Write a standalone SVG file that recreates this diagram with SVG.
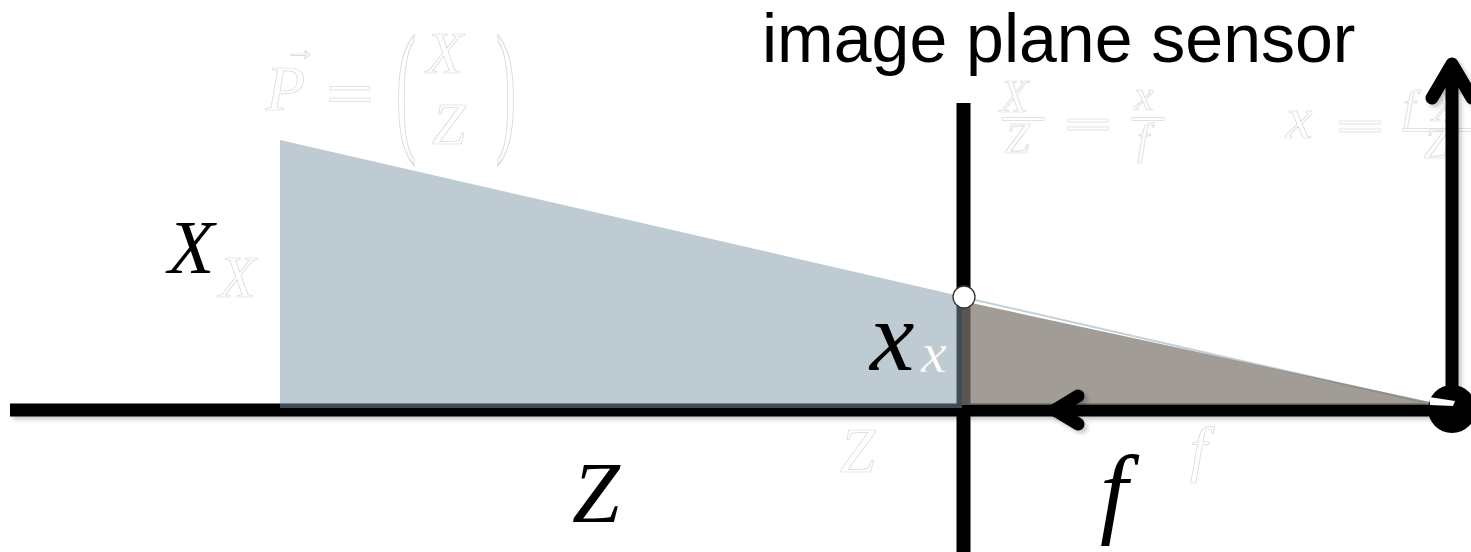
<svg xmlns="http://www.w3.org/2000/svg" width="1471" height="552" viewBox="0 0 1471 552">
<style>
.title{font-family:"Liberation Sans",Arial,sans-serif;font-size:68px;fill:#000}
.m{font-family:"Liberation Serif","Times New Roman",serif;font-style:italic;fill:#000}
.g{font-family:"Liberation Serif","Times New Roman",serif;font-style:italic;fill:#fff;stroke:#d6d6d6;stroke-width:0.7}
.gu{font-family:"Liberation Serif","Times New Roman",serif;fill:#fff;stroke:#d6d6d6;stroke-width:0.7}
.gbar{fill:#fff;stroke:#d6d6d6;stroke-width:0.7}
.bar{stroke:#000;fill:none}
.chev{stroke:#000;fill:none;stroke-width:13;stroke-linecap:round;stroke-linejoin:round}
</style>
<defs>
<filter id="sh" filterUnits="userSpaceOnUse" x="0" y="0" width="1471" height="552">
<feDropShadow dx="3" dy="3" stdDeviation="2" flood-color="#000" flood-opacity="0.22"/>
</filter>
</defs>
<rect width="1471" height="552" fill="#fff"/>

<g id="formula-P">
<text class="g" x="266" y="110" font-size="64">P</text>
<text class="gu" x="284" y="60" font-size="32">→</text>
<rect class="gbar" x="330" y="86.5" width="40" height="3.5"/>
<rect class="gbar" x="330" y="98" width="40" height="3.5"/>
<text class="gu" x="396" y="56.25" font-size="60" transform="scale(1,2.4)">(</text>
<text class="gu" x="496" y="56.25" font-size="60" transform="scale(1,2.4)">)</text>
<text class="g" x="426" y="73" font-size="60">X</text>
<text class="g" x="432" y="144" font-size="60">Z</text>
</g>

<g id="formula-ratio">
<text class="g" x="1000" y="112" font-size="46">X</text>
<rect class="gbar" x="1002" y="117.5" width="42" height="3"/>
<text class="g" x="1005" y="153" font-size="44">Z</text>
<rect class="gbar" x="1068" y="119" width="40" height="3"/>
<rect class="gbar" x="1068" y="127" width="40" height="3"/>
<text class="g" x="1134" y="110" font-size="44">x</text>
<rect class="gbar" x="1132" y="117.5" width="32" height="3"/>
<text class="g" x="1137" y="154" font-size="44">f</text>
</g>

<g id="formula-x">
<text class="g" x="1286" y="138" font-size="60">x</text>
<rect class="gbar" x="1340" y="121" width="40" height="3"/>
<rect class="gbar" x="1340" y="129" width="40" height="3"/>
<text class="g" x="1403" y="121" font-size="44">f</text>
<text class="g" x="1432" y="121" font-size="44">X</text>
<rect class="gbar" x="1403" y="128.5" width="70" height="3"/>
<text class="g" x="1424" y="158" font-size="44">Z</text>
</g>

<g id="connectors">
<line id="optical-axis" class="bar" x1="10" y1="410" x2="1452" y2="410" stroke-width="13" filter="url(#sh)"/>
<line id="sensor-plane" class="bar" x1="963.5" y1="103" x2="963.5" y2="552" stroke-width="14"/>
</g>

<g id="object-triangle">
<polygon points="280,140 962,296.5 962,408 280,408" fill="#8098a6" fill-opacity="0.5"/>
<line x1="962" y1="297" x2="1448" y2="408" stroke="#c3d1d9" stroke-width="2"/>
</g>

<g id="image-triangle">
<polygon points="962,301 1444,405 962,405" fill="#7d766d" fill-opacity="0.72"/>
</g>

<g id="arrows">
<polyline class="chev" points="1078,396 1055,410 1078,424" filter="url(#sh)"/>
<line class="bar" x1="1452" y1="409" x2="1452" y2="70" stroke-width="13" filter="url(#sh)"/>
<polyline class="chev" points="1432,98 1452,64 1472,98" filter="url(#sh)"/>
</g>

<g id="pinhole">
<circle cx="1452" cy="409" r="24" fill="#000"/>
<polygon points="1429,397 1455,401 1453,406 1430,405" fill="#fff"/>
</g>

<g id="image-point">
<circle cx="964" cy="297" r="11" fill="#fff" stroke="#333" stroke-width="1.3"/>
</g>

<g id="title">
<text class="title" x="762" y="62">image plane sensor</text>
</g>

<g id="labels">
<text class="m" x="168" y="273" font-size="76">X</text>
<text class="g" x="219" y="297" font-size="60">X</text>
<text class="m" x="870" y="370" font-size="100">x</text>
<text class="g" x="921" y="372" font-size="58">x</text>
<text class="m" x="572" y="522" font-size="86">Z</text>
<text class="g" x="840" y="472" font-size="63">Z</text>
<text class="m" x="1100" y="525" font-size="100">f</text>
<text class="g" x="1190" y="470" font-size="62">f</text>
</g>
</svg>
